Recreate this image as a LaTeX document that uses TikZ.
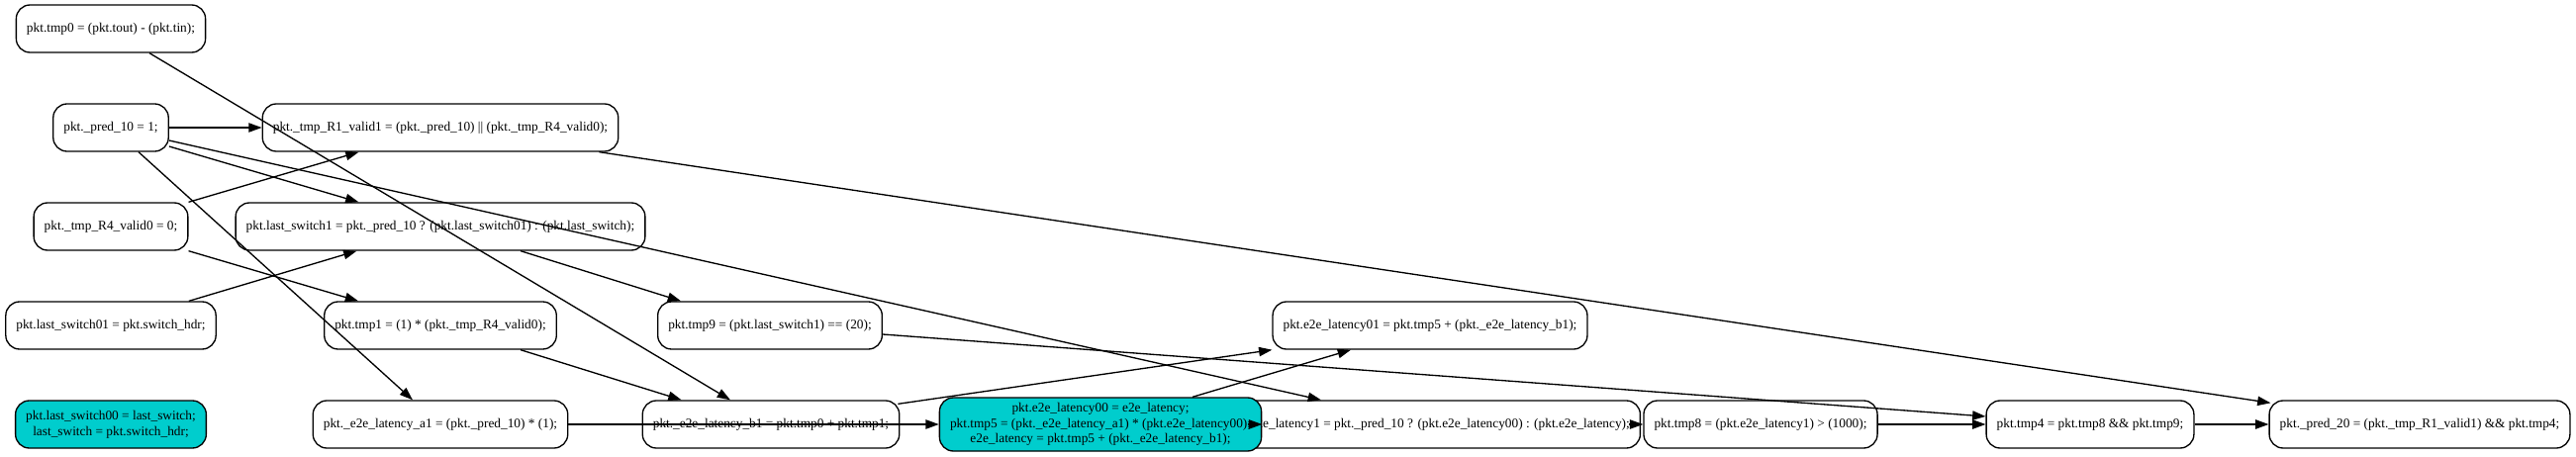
\documentclass[tikz,border=0pt]{standalone}
\usepackage{fontspec}
\setmainfont{Liberation Serif}
\usetikzlibrary{arrows.meta,calc}
\definecolor{cyanthree}{RGB}{0,205,205}
\begin{document}
\begin{tikzpicture}[x=1pt,y=-1pt,
  box/.style={draw, line width=1.33pt, rounded corners=14pt, minimum height=48pt,
    inner xsep=10.6pt, inner ysep=2pt, align=center,
    font=\fontsize{13.33pt}{16pt}\selectfont},
  hot/.style={box, fill=cyanthree},
  edge/.style={line width=1.33pt, -{Triangle[length=13.3pt,width=9.3pt]}}]
\useasboundingbox (0,0) rectangle (2603,462);
% column 0
\node[box] (tmp0) at (112,29) {pkt.tmp0 = (pkt.tout) - (pkt.tin);};
\node[box] (pred10) at (112,129) {pkt.\_pred\_10 = 1;};
\node[box] (R4) at (112,229) {pkt.\_tmp\_R4\_valid0 = 0;};
\node[box] (ls01) at (112,329) {pkt.last\_switch01 = pkt.switch\_hdr;};
\node[hot] (ls00) at (112,429) {pkt.last\_switch00 = last\_switch;\\last\_switch = pkt.switch\_hdr;};
% column 1
\node[box] (R1) at (445,129) {pkt.\_tmp\_R1\_valid1 = (pkt.\_pred\_10) || (pkt.\_tmp\_R4\_valid0);};
\node[box] (ls1) at (445,229) {pkt.last\_switch1 = pkt.\_pred\_10 ? (pkt.last\_switch01) : (pkt.last\_switch);};
\node[box] (tmp1) at (445,329) {pkt.tmp1 = (1) * (pkt.\_tmp\_R4\_valid0);};
\node[box] (a1) at (445,429) {pkt.\_e2e\_latency\_a1 = (pkt.\_pred\_10) * (1);};
% column 2
\node[box] (tmp9) at (778,329) {pkt.tmp9 = (pkt.last\_switch1) == (20);};
\node[box] (b1) at (779,429) {pkt.\_e2e\_latency\_b1 = pkt.tmp0 + pkt.tmp1;};
% column 4 (drawn before the cyan node, which covers it)
\node[box] (e01) at (1445,329) {pkt.e2e\_latency01 = pkt.tmp5 + (pkt.\_e2e\_latency\_b1);};
\node[box] (e1) at (1445,429) {pkt.e2e\_latency1 = pkt.\_pred\_10 ? (pkt.e2e\_latency00) : (pkt.e2e\_latency);};
% column 3
\node[hot, minimum height=54pt, font=\fontsize{13.33pt}{15.5pt}\selectfont] (cy) at (1112,429)
  {pkt.e2e\_latency00 = e2e\_latency;\\pkt.tmp5 = (pkt.\_e2e\_latency\_a1) * (pkt.e2e\_latency00);\\e2e\_latency = pkt.tmp5 + (pkt.\_e2e\_latency\_b1);};
% columns 5-7
\node[box] (tmp8) at (1779,429) {pkt.tmp8 = (pkt.e2e\_latency1) > (1000);};
\node[box] (tmp4) at (2112,429) {pkt.tmp4 = pkt.tmp8 \&\& pkt.tmp9;};
\node[box] (pred20) at (2445,429) {pkt.\_pred\_20 = (pkt.\_tmp\_R1\_valid1) \&\& pkt.tmp4;};
% edges
\draw[edge] (pred10.east) -- (R1.west);
\draw[edge] (R4.north east) -- ($(R1.south west)+(98,0)$);
\draw[edge] ($(pred10.east)+(0,19)$) -- ($(ls1.north west)+(125,0)$);
\draw[edge] ($(pred10.east)+(0,13)$) -- ($(e1.north west)+(103,0)$);
\draw[edge] ($(pred10.south)+(28,0)$) -- ($(a1.north)+(-28,0)$);
\draw[edge] ($(tmp0.south)+(39,0)$) -- ($(b1.north)+(-41,0)$);
\draw[edge] ($(ls01.north east)+(-28,0)$) -- ($(ls1.south west)+(123,0)$);
\draw[edge] (R4.south east) -- ($(tmp1.north west)+(35,0)$);
\draw[edge] ($(ls1.south)+(81,0)$) -- ($(tmp9.north west)+(24,0)$);
\draw[edge] ($(tmp1.south east)+(-37,0)$) -- ($(b1.north west)+(40,0)$);
\draw[edge] (a1.east) -- (cy.west);
\draw[edge] ($(b1.north east)+(-2,4)$) -- (e01.south west);
\draw[edge] ($(cy.north)+(93,0)$) -- ($(e01.south)+(-80,0)$);
\draw[edge] ($(cy.east)+(-14,0)$) -- (cy.east);
\draw[edge] ($(tmp8.west)+(-14,0)$) -- (tmp8.west);
\draw[edge] ($(tmp9.east)+(0,9)$) -- ($(tmp4.west)+(0,-8)$);
\draw[edge] (tmp8.east) -- (tmp4.west);
\draw[edge] (tmp4.east) -- (pred20.west);
\draw[edge] ($(R1.south east)+(-20,0)$) -- ($(pred20.north west)+(2,3)$);
\end{tikzpicture}
\end{document}
